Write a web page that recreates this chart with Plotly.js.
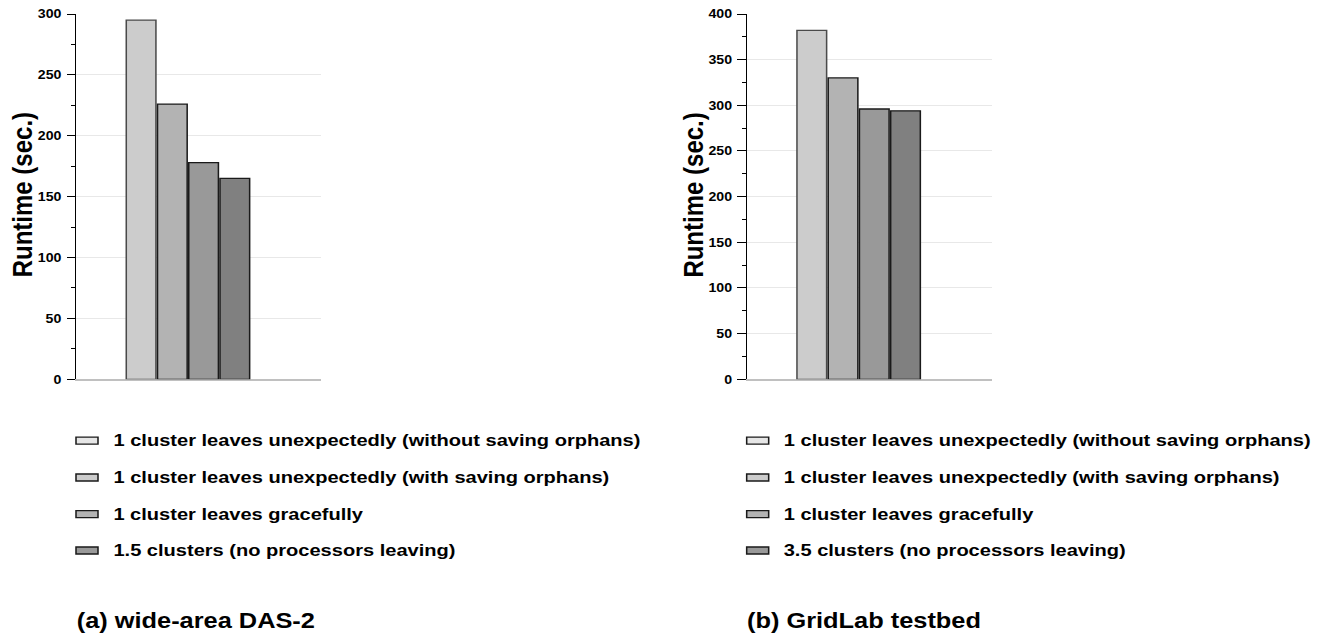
<!DOCTYPE html>
<html>
<head>
<meta charset="utf-8">
<script src="https://cdn.plot.ly/plotly-3.0.1.min.js"></script>
<style>
  html, body { margin: 0; padding: 0; background: #ffffff; overflow: hidden; }
  /* The figure is laid out at its native width and widened to fill the page. */
  #fig { width: 1127px; height: 639px; transform: scaleX(1.1801); transform-origin: 0 0; }
</style>
</head>
<body>
<div id="fig"></div>
<script>
// Scenario names shown in the legend of each panel
const scenariosDAS = [
  '1 cluster leaves unexpectedly (without saving orphans)',
  '1 cluster leaves unexpectedly (with saving orphans)',
  '1 cluster leaves gracefully',
  '1.5 clusters (no processors leaving)'
];
const scenariosGridLab = [
  '1 cluster leaves unexpectedly (without saving orphans)',
  '1 cluster leaves unexpectedly (with saving orphans)',
  '1 cluster leaves gracefully',
  '3.5 clusters (no processors leaving)'
];

// Runtime in seconds for each scenario
const runtimeDAS = [295, 226, 178, 165];
const runtimeGridLab = [382, 330, 296, 294];

// Panel captions and axis settings
const captions = ['(a) wide-area DAS-2', '(b) GridLab testbed'];
const yAxisTitle = 'Runtime (sec.)';
const yMax = [300, 400];

// Grey shades
const barFill = ['#cccccc', '#b3b3b3', '#999999', '#808080'];
const barEdge = ['#4a4a4a', '#1a1a1a', '#1a1a1a', '#1a1a1a'];
const keyFill = ['#e6e6e6', '#cccccc', '#b3b3b3', '#999999'];

const W = 1330, H = 639;           // page size in pixels
const FONT = 'Liberation Sans, Arial, Helvetica, sans-serif';

// plot areas in page pixels
const plotLeft = [76, 746.7];
const plotWidth = 245;
const plotTop = 14, plotBottom = 379.3;

const panels = [
  { names: scenariosDAS, values: runtimeDAS },
  { names: scenariosGridLab, values: runtimeGridLab }
];

const fx = px => px / W;
const fy = py => 1 - py / H;

const traces = [];
const layout = {
  width: 1127, height: H,
  margin: { l: 0, r: 0, t: 0, b: 0 },
  paper_bgcolor: '#ffffff', plot_bgcolor: '#ffffff',
  barmode: 'group', bargap: 0.49, bargroupgap: 0.05,
  showlegend: false,
  font: { family: FONT, color: '#000000' },
  shapes: [], annotations: []
};

panels.forEach((panel, p) => {
  const xa = p === 0 ? 'x' : 'x2';
  const ya = p === 0 ? 'y' : 'y2';
  panel.values.forEach((v, i) => {
    traces.push({
      type: 'bar', x: [0], y: [v], name: panel.names[i],
      xaxis: xa, yaxis: ya,
      marker: { color: barFill[i], line: { color: barEdge[i], width: 1.3 } },
      hovertemplate: '%{y} s<extra>' + panel.names[i] + '</extra>'
    });
  });

  const axKey = p === 0 ? '' : '2';
  layout['xaxis' + axKey] = {
    domain: [fx(plotLeft[p]), fx(plotLeft[p] + plotWidth)],
    anchor: ya,
    range: [-0.457, 0.543],
    showticklabels: false, ticks: '', showgrid: false, zeroline: false,
    showline: true, linecolor: '#c0c0c0', linewidth: 2,
    layer: 'below traces', fixedrange: true
  };
  layout['yaxis' + axKey] = {
    domain: [fy(plotBottom), fy(plotTop)],
    anchor: xa,
    range: [0, yMax[p]], tick0: 0, dtick: 50,
    ticks: 'outside', ticklen: 7, tickwidth: 1, tickcolor: '#000000',
    showline: true, linecolor: '#000000', linewidth: 1,
    showgrid: true, gridcolor: '#e8e8e8', gridwidth: 1, zeroline: false,
    ticklabelstandoff: 2,
    tickfont: { family: FONT, size: 12, color: '#000000', weight: 'bold' },
    minor: { dtick: 25, ticks: 'outside', ticklen: 3, tickwidth: 1, tickcolor: '#000000', showgrid: false },
    fixedrange: true
  };

  // y-axis title
  layout.annotations.push({
    xref: 'paper', yref: 'paper',
    x: fx(plotLeft[p] - 54), y: fy((plotTop + plotBottom) / 2 - 2),
    xanchor: 'center', yanchor: 'middle',
    text: yAxisTitle, textangle: -90, showarrow: false,
    font: { family: FONT, size: 24, color: '#000000', weight: 'bold' }
  });

  // legend key boxes and labels
  const rowY = [440.7, 477.5, 514.2, 550.5];
  panel.names.forEach((name, i) => {
    layout.shapes.push({
      type: 'rect', xref: 'paper', yref: 'paper',
      x0: fx(plotLeft[p]), x1: fx(plotLeft[p] + 22),
      y0: fy(rowY[i] - 3.5), y1: fy(rowY[i] + 3.5),
      fillcolor: keyFill[i], line: { color: '#1a1a1a', width: 1.3 }
    });
    layout.annotations.push({
      xref: 'paper', yref: 'paper',
      x: fx(plotLeft[p] + 35), y: fy(rowY[i]),
      xanchor: 'left', yanchor: 'middle',
      text: name, showarrow: false,
      font: { family: FONT, size: 17, color: '#000000', weight: 'bold' }
    });
  });

  // panel caption
  layout.annotations.push({
    xref: 'paper', yref: 'paper',
    x: fx(plotLeft[p] - 2), y: fy(621),
    xanchor: 'left', yanchor: 'middle',
    text: captions[p], showarrow: false,
    font: { family: FONT, size: 21.5, color: '#000000', weight: 'bold' }
  });
});

Plotly.newPlot('fig', traces, layout, { displayModeBar: false, staticPlot: false, responsive: false });
</script>
</body>
</html>
